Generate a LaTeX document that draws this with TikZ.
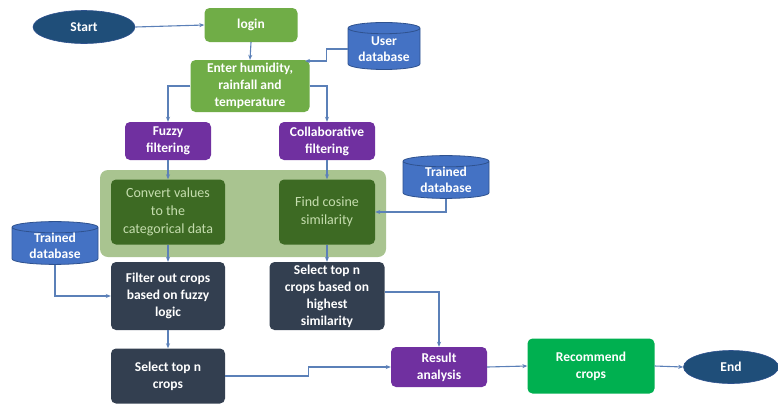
\documentclass[tikz,border=0pt]{standalone}
\usepackage{fontspec}
\setmainfont{Carlito}
\usetikzlibrary{shapes.geometric,arrows.meta,backgrounds}
\definecolor{termblue}{HTML}{1F4E79}
\definecolor{lgreen}{HTML}{70AD47}
\definecolor{dbblue}{HTML}{4472C4}
\definecolor{dbedge}{HTML}{2F528F}
\definecolor{purp}{HTML}{7030A0}
\definecolor{navy}{HTML}{333F50}
\definecolor{recgreen}{HTML}{00B050}
\definecolor{bandgreen}{HTML}{A9C490}
\definecolor{dkgreen}{HTML}{3D6A23}
\definecolor{dktext}{HTML}{C5DDAE}
\definecolor{conn}{HTML}{5B80B8}
\tikzset{
  x=1pt, y=-1pt,
  every node/.style={font=\bfseries\fontsize{13.5}{17}\selectfont, text=white, align=center, inner sep=0pt},
  boxbase/.style={rectangle, rounded corners=5pt},
  greenbox/.style={boxbase, fill=lgreen},
  purpbox/.style={boxbase, fill=purp},
  navybox/.style={boxbase, fill=navy},
  dkbox/.style={boxbase, fill=dkgreen, text=dktext, font=\fontsize{14}{18}\selectfont},
  term/.style={ellipse, fill=termblue, draw=dbedge, line width=0.6pt},
  dbase/.style={cylinder, shape border rotate=90, aspect=0.22, fill=dbblue, draw=dbedge, line width=0.8pt, font=\bfseries\fontsize{13.5}{16}\selectfont},
  conline/.style={draw=conn, line width=1.1pt, -{Stealth[length=5pt,width=4pt]}},
}
\begin{document}
\begin{tikzpicture}
\useasboundingbox (0,0) rectangle (778,408);
\fill[white] (0,0) rectangle (778,408);
% band
\fill[bandgreen, rounded corners=8pt] (100,170) rectangle (386,257);

\node[term, minimum width=102, minimum height=33] (start) at (84,27) {Start};
\node[greenbox, minimum width=93, minimum height=34] (login) at (251,25) {login};
\node[dbase, minimum width=72, minimum height=47] (udb) at (384,49) {User\\database};
\node[greenbox, minimum width=119, minimum height=52] (enter) at (250,86) {Enter humidity,\\rainfall and\\temperature};
\node[purpbox, minimum width=86, minimum height=38] (fuzzy) at (168,141) {Fuzzy\\filtering};
\node[purpbox, minimum width=96, minimum height=38] (collab) at (327,141) {Collaborative\\filtering};
\node[dkbox, minimum width=114, minimum height=65] (convert) at (168,212) {Convert values\\to the\\categorical data};
\node[dkbox, minimum width=96, minimum height=65] (cosine) at (327,212) {Find cosine\\similarity};
\node[dbase, minimum width=86, minimum height=38] (tdbr) at (446,180) {Trained\\database};
\node[dbase, minimum width=86, minimum height=37] (tdbl) at (55,246) {Trained\\database};
\node[navybox, minimum width=114, minimum height=68] (filter) at (168,296) {Filter out crops\\based on fuzzy\\logic};
\node[navybox, minimum width=115, minimum height=68] (topsim) at (327,296) {Select top n\\crops based on\\highest\\similarity};
\node[navybox, minimum width=114, minimum height=55] (topn) at (168,376) {Select top n\\crops};
\node[purpbox, minimum width=96, minimum height=40] (result) at (439,367) {Result\\analysis};
\node[boxbase, fill=recgreen, minimum width=127, minimum height=55] (rec) at (591,366) {Recommend\\crops};
\node[term, minimum width=95, minimum height=33] (end) at (731,367) {End};
\coordinate (uend) at (305,61);

\draw[conline] (start.east) -- (login.west);
\draw[conline] (login.south) -- (enter.north);
\draw[conline] (udb.west) -- ++(-21,0) |- (uend);
\draw[conline] (enter.west) -| (fuzzy.north);
\draw[conline] (enter.east) -| (collab.north);
\draw[conline] (fuzzy.south) -- (convert.north);
\draw[conline] (collab.south) -- (cosine.north);
\draw[conline] (tdbr.south) |- (cosine.east);
\draw[conline] (tdbl.south) |- (filter.west);
\draw[conline] (convert.south) -- (filter.north);
\draw[conline] (cosine.south) -- (topsim.north);
\draw[conline] (filter.south) -- (topn.north);
\draw[conline] (topn.east) -- ++(83,0) |- (result.west);
\draw[conline] ([yshift=4]topsim.east) -| (result.north);
\draw[conline] (result.east) -- (rec.west);
\draw[conline] (rec.east) -- (end.west);
\end{tikzpicture}
\end{document}
